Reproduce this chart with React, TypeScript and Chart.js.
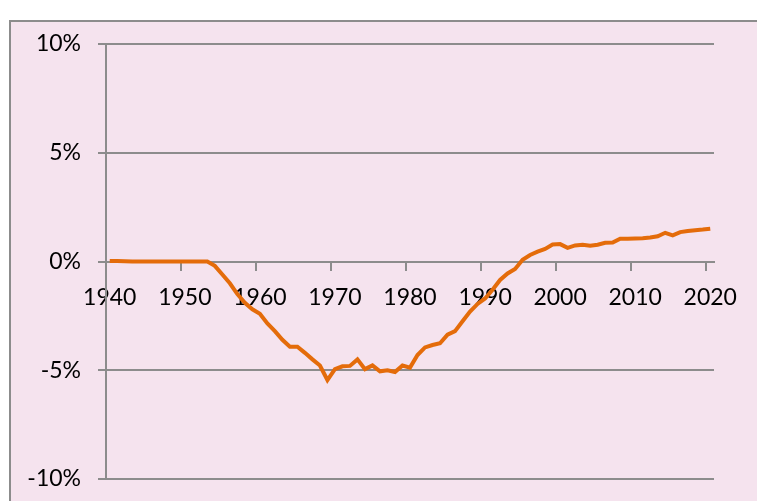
import React, { useEffect, useRef } from "react";
import { Chart, registerables } from "chart.js";

Chart.register(...registerables);

const years: string[] = [];
for (let y = 1940; y <= 2020; y++) years.push(String(y));

// values in percent, 1940..2020
const values1940s = [0.02, 0.02, 0.01, 0, 0, 0, 0, 0, 0, 0];
const values1950s = [0, 0, 0, 0, -0.2, -0.6, -1.0, -1.5, -1.9, -2.2];
const values1960s = [-2.4, -2.85, -3.2, -3.6, -3.92, -3.92, -4.2, -4.5, -4.78, -5.45];
const values1970s = [-4.95, -4.82, -4.8, -4.5, -4.95, -4.78, -5.05, -5.0, -5.08, -4.78];
const values1980s = [-4.88, -4.3, -3.95, -3.84, -3.76, -3.36, -3.2, -2.75, -2.3, -1.95];
const values1990s = [-1.7, -1.3, -0.85, -0.55, -0.34, 0.08, 0.3, 0.45, 0.58, 0.78];
const values2000s = [0.8, 0.63, 0.74, 0.77, 0.72, 0.77, 0.86, 0.87, 1.05, 1.05];
const values2010s = [1.06, 1.07, 1.1, 1.16, 1.32, 1.2, 1.35, 1.4, 1.44, 1.47];
const values2020s = [1.51];

const series = [
  ...values1940s, ...values1950s, ...values1960s, ...values1970s,
  ...values1980s, ...values1990s, ...values2000s, ...values2010s, ...values2020s,
];

const yTicks = [-10, -5, 0, 5, 10];

const W = 757;
const H = 501;
const PINK = "#F5E3EE";
const GRID = "#8C8C8C";
const LINE = "#E46C0A";
const FONT = { family: "Lato, 'Liberation Sans', sans-serif", size: 23 };

export default function App() {
  const ref = useRef<HTMLCanvasElement | null>(null);

  useEffect(() => {
    if (!ref.current) return;
    const bg = {
      id: "bgframe",
      beforeDraw(chart: any) {
        const ctx = chart.ctx;
        ctx.save();
        ctx.fillStyle = "#ffffff";
        ctx.fillRect(0, 0, W, H);
        ctx.fillStyle = PINK;
        ctx.fillRect(10, 21, W, H);
        ctx.strokeStyle = GRID;
        ctx.lineWidth = 2;
        ctx.beginPath();
        ctx.moveTo(10, H);
        ctx.lineTo(10, 21);
        ctx.lineTo(W, 21);
        ctx.stroke();
        ctx.restore();
      },
    };
    const chart = new Chart(ref.current, {
      type: "line",
      data: {
        labels: years,
        datasets: [
          {
            data: series,
            borderColor: LINE,
            borderWidth: 4,
            pointRadius: 0,
            tension: 0,
            fill: false,
          },
        ],
      },
      options: {
        responsive: false,
        animation: false,
        layout: { padding: { left: 0, top: 44, right: 43, bottom: 22 } },
        plugins: { legend: { display: false }, tooltip: { enabled: false } },
        scales: {
          x: {
            type: "category",
            position: { y: 0 } as any,
            offset: true,
            afterFit: (s: any) => {
              s.height = 0;
              s.paddingLeft = 0;
              s.paddingRight = 0;
            },
            grid: {
              offset: true,
              drawOnChartArea: false,
              drawTicks: true,
              tickLength: 8,
              lineWidth: 2,
              tickColor: (c: any) => (c.index % 10 === 0 ? GRID : "rgba(0,0,0,0)"),
            } as any,
            border: { display: true, color: GRID, width: 2 },
            ticks: {
              autoSkip: false,
              maxRotation: 0,
              minRotation: 0,
              color: "#000",
              font: FONT,
              padding: 14,
              callback: (_v: any, i: number) => (i % 10 === 0 ? years[i] : ""),
            },
          },
          y: {
            min: -10,
            max: 10,
            afterBuildTicks: (s: any) => {
              s.ticks = yTicks.map((v) => ({ value: v }));
            },
            afterFit: (s: any) => {
              s.width = 106;
              s.paddingTop = 0;
              s.paddingBottom = 0;
            },
            grid: { color: GRID, lineWidth: 2, tickLength: 8, drawTicks: true },
            border: { display: true, color: GRID, width: 2 },
            ticks: {
              color: "#000",
              font: FONT,
              padding: 17,
              callback: (v: any) => `${v}%`,
            },
          },
        },
      },
      plugins: [bg],
    });
    return () => chart.destroy();
  }, []);

  return (
    <div style={{ position: "fixed", left: 0, top: 0, width: W, height: H, background: "#fff" }}>
      <canvas ref={ref} width={W} height={H} style={{ display: "block", width: W, height: H }} />
    </div>
  );
}
